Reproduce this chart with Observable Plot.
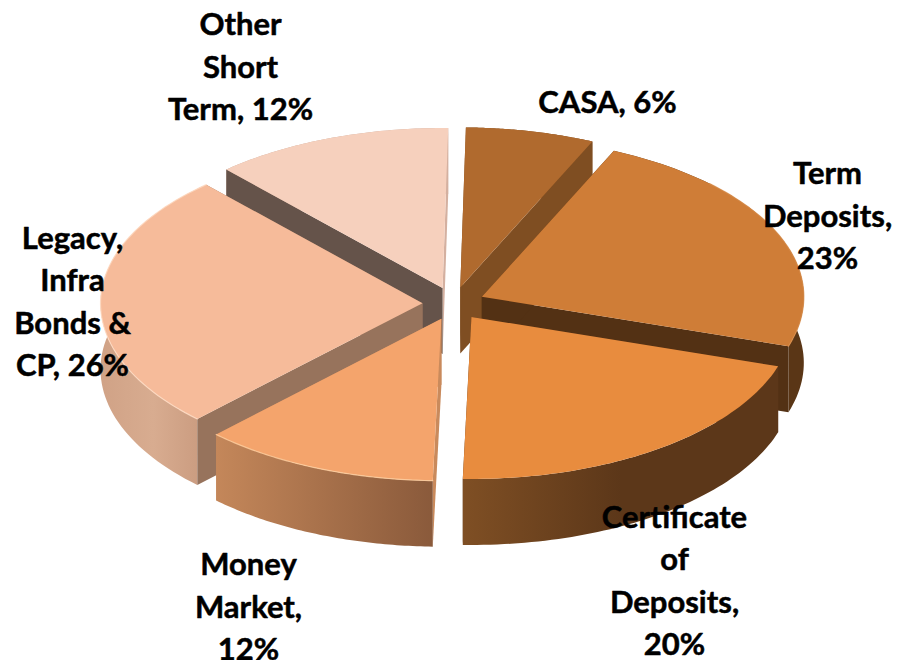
<!DOCTYPE html>
<html>
<head>
<meta charset="utf-8">
<script src="https://cdn.jsdelivr.net/npm/d3@7"></script>
<script src="https://cdn.jsdelivr.net/npm/@observablehq/plot@0.6"></script>
<style>html,body{margin:0;padding:0;background:#fff}svg{display:block}</style>
</head>
<body>
<div id="chart"></div>
<script>
// Data: slice order is clockwise from near 12 o'clock
const categories = ["CASA", "Term Deposits", "Certificate of Deposits", "Money Market", "Legacy, Infra Bonds & CP", "Other Short Term"];
const shares = [6.45, 23.2, 20.5, 11.9, 25.95, 12.0];
const labels = ["CASA, 6%", "Term\nDeposits,\n23%", "Certificate\nof\nDeposits,\n20%", "Money\nMarket,\n12%", "Legacy,\nInfra\nBonds &\nCP, 26%", "Other\nShort\nTerm, 12%"];

// Look
const topColors = ["#b06a2e", "#cf7d37", "#e88c3e", "#f4a46c", "#f6bb9a", "#f6d0bd"];
const startFaceColors = ["#7f4e22", "#533114", "#5c3719", "#c98a5c", "#97735c", "#65534a"];
const endFaceColors = ["#7f4e22", "#533114", "#5c3719", "#c98a5c", "#97735c", "#d4b0a0"];
const wallStops = [
  ["#7f4e22", "#7f4e22"],
  ["#5a3616", "#5a3616"],
  ["#7f4f24", "#5c3719", "#5c3719"],
  ["#c4875a", "#8a5a3b"],
  ["#d0a286", "#d8ac90", "#c99a7e"],
  ["#c9a898", "#c9a898"]
];
const rimColors = ["none", "#d98c48", "none", "#ffd0a0", "#ffdcc4", "none"];
const labelX = [607, 827, 674, 248, 72, 240];
const labelY = [98.5, 212.5, 577.5, 603.5, 298.5, 63.5];

// Pie geometry
const W = 897, H = 660, cx = 453, cy = 303, rx = 322, ryBack = 160, ryFront = 162, ex = 31, ey = 16.5, depth = 66, rotation = 1;
const rad = d => d * Math.PI / 180;
const total = d3.sum(shares);
let acc = rotation;
const slices = shares.map((v, i) => {
  const a0 = acc, a1 = acc + v / total * 360;
  acc = a1;
  const mid = rad((a0 + a1) / 2);
  const ax = cx + ex * Math.sin(mid), ay = cy - ey * Math.cos(mid);
  const arc = d3.range(0, 61).map(k => {
    const t = rad(a0 + (a1 - a0) * k / 60), c = Math.cos(t);
    return [ax + rx * Math.sin(t), ay - (c > 0 ? ryBack : ryFront) * c];
  });
  return {i, ax, ay, arc, front: Math.cos(mid) < 0};
});
const down = p => [p[0], p[1] + depth];
const X = d => d[0], Y = d => d[1];
const marks = [];
for (const i of [5, 0, 4, 1, 3, 2]) {
  const s = slices[i], apex = [s.ax, s.ay], first = s.arc[0], last = s.arc[s.arc.length - 1];
  const wall = Plot.line([...s.arc, ...s.arc.map(down).reverse()], {x: X, y: Y, fill: `url(#wall${i})`, stroke: "none"});
  const faces = [
    Plot.line([apex, last, down(last), down(apex)], {x: X, y: Y, fill: endFaceColors[i], stroke: "none"}),
    Plot.line([apex, first, down(first), down(apex)], {x: X, y: Y, fill: startFaceColors[i], stroke: "none"})
  ];
  if (s.front) marks.push(...faces, wall); else marks.push(wall, ...faces);
  marks.push(Plot.line([apex, ...s.arc], {x: X, y: Y, fill: topColors[i], stroke: "none"}));
  if (rimColors[i] !== "none") {
    const visible = s.arc.filter(p => p[1] > cy - 120);
    marks.push(Plot.line(visible, {x: X, y: Y, stroke: rimColors[i], strokeWidth: 1.2, strokeOpacity: 0.8}));
  }
}
marks.push(Plot.text(labels.map((t, i) => ({t, x: labelX[i], y: labelY[i]})), {
  x: "x", y: "y", text: "t", fill: "black", stroke: "black", strokeWidth: 0.5, fontSize: 31, fontWeight: 700,
  fontFamily: "Lato, 'Open Sans', sans-serif", lineHeight: 1.37, textAnchor: "middle", lineAnchor: "middle"
}));

const chart = Plot.plot({
  width: W, height: H, margin: 0,
  x: {domain: [0, W], range: [0, W], axis: null},
  y: {domain: [0, H], range: [0, H], axis: null},
  style: {background: "white"},
  marks
});
const defs = d3.select(chart).insert("defs", ":first-child");
wallStops.forEach((stops, i) => {
  const g = defs.append("linearGradient").attr("id", `wall${i}`).attr("x1", 0).attr("x2", 1).attr("y1", 0).attr("y2", 0);
  stops.forEach((c, k) => g.append("stop").attr("offset", k / (stops.length - 1)).attr("stop-color", c));
});
document.getElementById("chart").append(chart);
</script>
</body>
</html>
